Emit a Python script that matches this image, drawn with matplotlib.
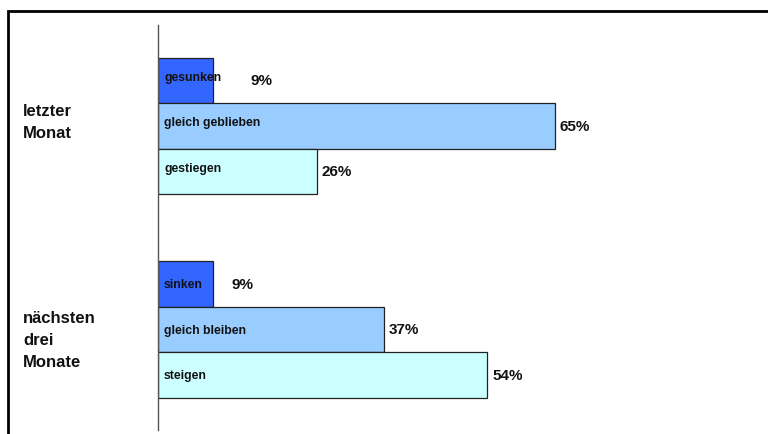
import matplotlib.pyplot as plt
from matplotlib.patches import Rectangle

plt.rcParams["font.family"] = ["Liberation Sans", "DejaVu Sans"]

groups = ["letzter\nMonat", "nächsten\ndrei\nMonate"]
labels_last = ["gesunken", "gleich geblieben", "gestiegen"]
values_last = [9, 65, 26]
labels_next = ["sinken", "gleich bleiben", "steigen"]
values_next = [9, 37, 54]
colors = ["#3366FF", "#99CCFF", "#CCFFFF"]

# vertical slot of each group (in bar heights)
group_offsets = [0.0, 4.47]
# small vertical nudge of the in-bar captions per group
label_shift = [-0.06, 0.03]

fig = plt.figure(figsize=(7.68, 4.34), dpi=100)
ax = fig.add_axes([158 / 768, 4 / 434, 610 / 768, 405 / 434])

for g, (labels, values, off) in enumerate(
    zip([labels_last, labels_next], [values_last, values_next], group_offsets)
):
    ys = [off + i for i in range(len(values))]
    ax.barh(ys, values, height=1.0, color=colors, edgecolor="#222222",
            linewidth=0.9)
    for i, (y, v, lab) in enumerate(zip(ys, values, labels)):
        ax.text(1.0, y + label_shift[g], lab, ha="left", va="center",
                fontsize=8.8, fontweight="bold", color="#111111")
        # the smallest bar keeps its percentage clear of the inner label
        pad = 6.2 if (i == 0 and g == 0) else (3.0 if i == 0 else 0.8)
        ax.text(v + pad, y + 0.02, f"{v}%", ha="left", va="center",
                fontsize=11, fontweight="bold", color="#111111")

ax.set_xlim(0, 100)
ax.set_ylim(7.68, -1.22)
ax.set_xticks([])
ax.set_yticks([])
for side in ["top", "right", "bottom"]:
    ax.spines[side].set_visible(False)
ax.spines["left"].set_color("#555555")
ax.spines["left"].set_linewidth(1.0)

# group captions on the left
fig.text(23 / 768, 1 - 122.5 / 434, groups[0], ha="left", va="center",
         fontsize=12, fontweight="bold", linespacing=1.58, color="#111111")
fig.text(23 / 768, 1 - 340.5 / 434, groups[1], ha="left", va="center",
         fontsize=12, fontweight="bold", linespacing=1.58, color="#111111")

# outer frame, open towards the right and bottom edges
fig.patches.append(Rectangle((7.5 / 768, -0.2), 1.2, 1.2 - 11.5 / 434,
                             transform=fig.transFigure, fill=False,
                             edgecolor="black", linewidth=2.0, clip_on=False))

fig.savefig("out.png", dpi=100)
